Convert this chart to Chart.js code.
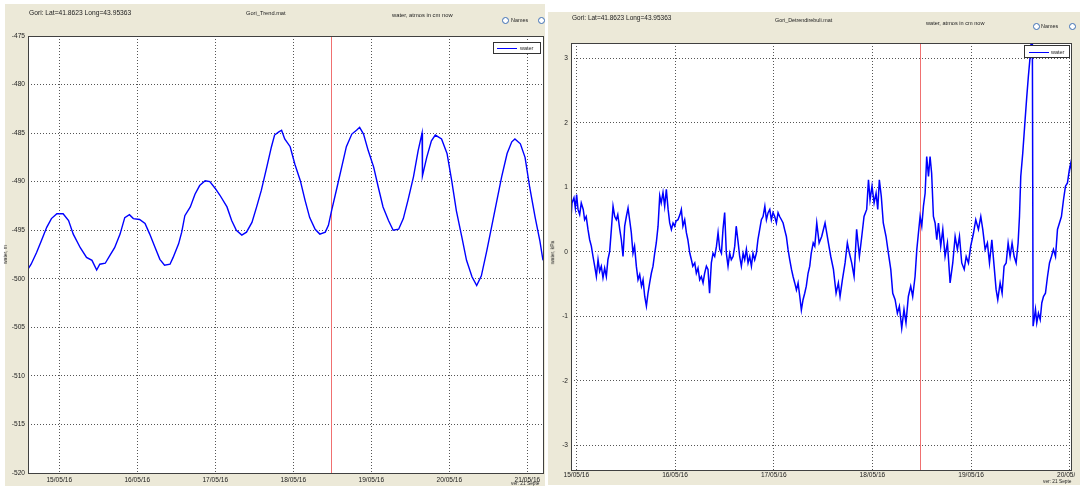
<!DOCTYPE html>
<html>
<head>
<meta charset="utf-8">
<script src="https://cdn.jsdelivr.net/npm/chart.js@4.4.1/dist/chart.umd.min.js"></script>
<style>
body { margin: 0; width: 1080px; height: 489px; background: #fff; position: relative; overflow: hidden; font-family: "Liberation Sans", Arial, sans-serif; }
.panel { position: absolute; background: #ECE9D8; }
canvas { position: absolute; top: 0; }
.txt { position: absolute; white-space: nowrap; color: #222; line-height: 1; }
.radio { position: absolute; width: 5px; height: 5px; border: 1px solid #3b6db3; border-radius: 50%; background: #fff; }
.legend { position: absolute; background: #fff; border: 1px solid #333; box-sizing: border-box; }
.legend .ln { position: absolute; height: 1px; background: #0000ff; }
.legend .lt { position: absolute; font-size: 5.5px; line-height: 1; color: #222; }
.ytitle { position: absolute; transform: rotate(-90deg); transform-origin: center; white-space: nowrap; font-size: 5px; color: #222; line-height: 1; }
</style>
</head>
<body>

<div class="panel" style="left:5px;top:4px;width:540px;height:482px"></div>
<div class="panel" style="left:548px;top:12px;width:532px;height:473px"></div>

<canvas id="trend" width="545" height="489" style="left:0"></canvas>
<canvas id="detr" width="527" height="489" style="left:548px"></canvas>

<!-- left panel texts -->
<div class="txt" style="left:29px;top:10px;font-size:6.7px">Gori: Lat=41.8623 Long=43.95363</div>
<div class="txt" style="left:246px;top:11px;font-size:5.7px">Gori_Trend.mat</div>
<div class="txt" style="left:392px;top:13px;font-size:5.8px">water, atmos in cm now</div>
<div class="radio" style="left:502px;top:17px"></div>
<div class="txt" style="left:511px;top:18px;font-size:5.4px">Names</div>
<div class="radio" style="left:538px;top:17px"></div>
<div class="ytitle" style="left:-4px;top:252px">water, m</div>
<div class="txt" style="left:511px;top:482px;font-size:4.8px">ver: 21 Septe</div>
<div class="legend" style="left:493px;top:42px;width:48px;height:12px">
  <div class="ln" style="left:3px;top:5px;width:20px"></div>
  <div class="lt" style="left:26px;top:3px">water</div>
</div>

<!-- right panel texts -->
<div class="txt" style="left:572px;top:15px;font-size:6.5px">Gori: Lat=41.8623 Long=43.95363</div>
<div class="txt" style="left:775px;top:18px;font-size:5.4px">Gori_Detrendirebuli.mat</div>
<div class="txt" style="left:926px;top:21px;font-size:5.6px">water, atmos in cm now</div>
<div class="radio" style="left:1033px;top:23px"></div>
<div class="txt" style="left:1041px;top:24px;font-size:5.4px">Names</div>
<div class="radio" style="left:1069px;top:23px"></div>
<div class="ytitle" style="left:541px;top:250px">water, kPa</div>
<div class="txt" style="left:1043px;top:480px;font-size:4.8px">ver: 21 Septe</div>
<div class="legend" style="left:1024px;top:45px;width:46px;height:13px">
  <div class="ln" style="left:4px;top:6px;width:20px"></div>
  <div class="lt" style="left:26px;top:4px">water</div>
</div>

<script>
// left panel: trend, days counted from 15/05/16 00:00
const trendDays = [-0.40,-0.36,-0.29,-0.23,-0.16,-0.10,-0.03,0.05,0.12,0.18,
    0.27,0.35,0.42,0.48,0.52,0.59,0.65,0.71,0.78,0.84,
    0.90,0.95,1.03,1.10,1.16,1.23,1.29,1.35,1.42,1.46,
    1.53,1.57,1.61,1.68,1.74,1.80,1.87,1.93,2.00,2.06,
    2.15,2.21,2.27,2.34,2.40,2.47,2.53,2.59,2.66,2.72,
    2.76,2.81,2.85,2.89,2.96,3.02,3.09,3.15,3.21,3.28,
    3.34,3.41,3.45,3.49,3.56,3.62,3.68,3.75,3.81,3.85,
    3.90,3.96,4.03,4.09,4.15,4.22,4.28,4.35,4.41,4.47,
    4.54,4.60,4.65,4.655,4.71,4.77,4.82,4.90,4.97,5.03,
    5.09,5.16,5.22,5.29,5.35,5.41,5.48,5.54,5.61,5.67,
    5.74,5.80,5.84,5.91,5.97,6.03,6.10,6.16,6.20];
const trendValues = [-499.0,-498.5,-497.3,-496.1,-494.7,-493.8,-493.3,-493.3,-494.0,-495.4,
    -496.8,-497.8,-498.1,-499.1,-498.5,-498.4,-497.6,-496.8,-495.4,-493.7,
    -493.4,-493.8,-493.9,-494.3,-495.4,-496.8,-498.0,-498.6,-498.5,-497.8,
    -496.4,-495.2,-493.5,-492.6,-491.3,-490.4,-489.9,-490.0,-490.7,-491.4,
    -492.6,-494.0,-495.0,-495.5,-495.2,-494.2,-492.6,-490.9,-488.5,-486.4,
    -485.2,-484.9,-484.7,-485.6,-486.4,-488.2,-489.9,-491.9,-493.7,-494.9,
    -495.4,-495.2,-494.5,-493.0,-490.6,-488.5,-486.4,-485.1,-484.7,-484.4,
    -485.1,-486.8,-488.5,-490.6,-492.6,-494.0,-495.0,-494.9,-493.8,-491.9,
    -489.5,-486.8,-485.0,-489.4,-487.5,-485.8,-485.2,-485.6,-487.1,-489.9,
    -493.0,-495.7,-498.1,-499.8,-500.7,-499.7,-497.1,-494.7,-491.9,-489.5,
    -487.1,-485.9,-485.6,-486.1,-487.5,-490.6,-493.7,-496.1,-498.1];
const trendTicks = [-520, -515, -510, -505, -500, -495, -490, -485, -480, -475];
const trendDayTicks = [0, 1, 2, 3, 4, 5, 6];
const trendDayLabels = ['15/05/16', '16/05/16', '17/05/16', '18/05/16', '19/05/16', '20/05/16', '21/05/16'];

// right panel: detrended
const detrDays = [-0.057,-0.044,-0.024,-0.010,0.003,0.017,0.034,0.050,0.070,0.084,
    0.100,0.118,0.135,0.152,0.169,0.186,0.203,0.220,0.236,0.253,
    0.270,0.287,0.304,0.320,0.338,0.355,0.372,0.389,0.405,0.420,
    0.440,0.456,0.473,0.490,0.507,0.524,0.540,0.557,0.574,0.590,
    0.608,0.625,0.642,0.660,0.676,0.693,0.710,0.726,0.743,0.760,
    0.777,0.794,0.810,0.828,0.845,0.860,0.878,0.895,0.912,0.930,
    0.946,0.963,0.980,0.997,1.010,1.030,1.050,1.064,1.080,1.098,
    1.115,1.130,1.150,1.166,1.180,1.200,1.216,1.233,1.250,1.267,
    1.284,1.300,1.318,1.334,1.350,1.368,1.385,1.402,1.420,1.436,
    1.453,1.470,1.486,1.503,1.520,1.537,1.554,1.570,1.588,1.605,
    1.620,1.640,1.655,1.672,1.690,1.706,1.723,1.740,1.757,1.774,
    1.790,1.807,1.824,1.840,1.858,1.875,1.892,1.910,1.926,1.943,
    1.960,1.976,1.993,2.010,2.027,2.044,2.060,2.078,2.095,2.110,
    2.128,2.145,2.162,2.180,2.196,2.213,2.230,2.247,2.264,2.280,
    2.297,2.314,2.330,2.348,2.365,2.380,2.400,2.416,2.436,2.460,
    2.486,2.520,2.554,2.578,2.605,2.632,2.655,2.672,2.696,2.723,
    2.746,2.767,2.790,2.814,2.840,2.868,2.892,2.915,2.942,2.960,
    2.976,2.996,3.017,3.037,3.054,3.070,3.090,3.110,3.138,3.162,
    3.186,3.206,3.230,3.253,3.273,3.297,3.320,3.340,3.364,3.388,
    3.408,3.432,3.450,3.466,3.483,3.500,3.517,3.534,3.550,3.568,
    3.584,3.600,3.618,3.635,3.652,3.669,3.692,3.713,3.736,3.760,
    3.787,3.814,3.838,3.861,3.882,3.905,3.930,3.950,3.973,3.996,
    4.024,4.047,4.074,4.098,4.118,4.142,4.165,4.186,4.210,4.233,
    4.253,4.270,4.294,4.314,4.334,4.355,4.375,4.395,4.415,4.436,
    4.456,4.476,4.490,4.503,4.523,4.547,4.564,4.580,4.598,4.610,
    4.620,4.628,4.638,4.652,4.665,4.682,4.700,4.716,4.733,4.753,
    4.774,4.794,4.814,4.834,4.855,4.875,4.895,4.915,4.936,4.956,
    4.976,4.996,5.010,5.023];
const detrValues = [0.45,0.76,0.84,0.68,0.89,0.66,0.58,0.76,0.66,0.50,
    0.55,0.35,0.19,0.09,-0.07,-0.22,-0.38,-0.12,-0.30,-0.22,
    -0.40,-0.25,-0.38,-0.12,0.01,0.35,0.71,0.55,0.50,0.58,
    0.35,0.19,-0.07,0.40,0.55,0.68,0.50,0.30,-0.02,0.09,
    -0.22,-0.43,-0.35,-0.53,-0.43,-0.69,-0.84,-0.64,-0.48,-0.33,
    -0.22,-0.02,0.14,0.40,0.87,0.76,0.92,0.71,0.97,0.66,
    0.45,0.35,0.45,0.40,0.48,0.50,0.58,0.66,0.40,0.50,
    0.30,0.19,-0.02,-0.12,-0.22,-0.17,-0.33,-0.25,-0.43,-0.38,
    -0.48,-0.33,-0.22,-0.27,-0.64,-0.17,-0.02,-0.07,0.09,0.30,
    0.04,-0.02,0.35,0.61,-0.02,-0.22,-0.02,-0.12,-0.07,0.09,
    0.40,0.14,-0.07,-0.22,-0.02,-0.12,0.04,-0.17,-0.07,-0.22,
    -0.02,-0.12,-0.02,0.19,0.35,0.50,0.55,0.71,0.50,0.61,
    0.66,0.50,0.61,0.55,0.45,0.61,0.55,0.50,0.45,0.35,
    0.24,0.04,-0.12,-0.27,-0.38,-0.48,-0.59,-0.48,-0.69,-0.90,
    -0.74,-0.64,-0.53,-0.33,-0.22,-0.02,0.14,0.09,0.45,0.14,
    0.24,0.45,0.14,-0.07,-0.27,-0.64,-0.48,-0.69,-0.43,-0.17,
    0.14,-0.02,-0.17,-0.38,0.35,-0.07,0.24,0.55,0.66,1.12,
    0.81,1.02,0.76,0.91,0.66,1.12,0.86,0.45,0.24,-0.02,
    -0.27,-0.64,-0.74,-0.95,-0.84,-1.18,-0.89,-1.10,-0.69,-0.53,
    -0.69,-0.38,0.04,0.29,0.55,0.40,0.71,0.91,1.48,1.17,
    1.48,1.22,0.55,0.45,0.19,0.45,0.09,0.35,-0.07,0.14,
    -0.48,-0.17,0.24,0.04,0.24,-0.17,-0.27,-0.07,-0.17,0.09,
    0.29,0.50,0.35,0.55,0.35,0.04,0.14,-0.17,0.19,-0.22,
    -0.58,-0.74,-0.48,-0.64,-0.22,-0.17,0.14,-0.07,0.14,-0.07,
    -0.17,0.14,0.55,1.17,1.53,2.05,2.41,2.72,3.03,3.29,
    3.60,-1.15,-1.05,-0.89,-1.10,-0.95,-1.05,-0.79,-0.69,-0.64,
    -0.38,-0.17,-0.07,0.04,-0.07,0.35,0.45,0.55,0.81,1.02,
    1.07,1.28,1.38,1.17];
const detrTicks = [-3, -2, -1, 0, 1, 2, 3];
const detrDayTicks = [0, 1, 2, 3, 4, 5];
const detrDayLabels = ['15/05/16', '16/05/16', '17/05/16', '18/05/16', '19/05/16', '20/05/16'];

const cursorDay = 3.48;

// white plot area, red cursor, frame
const framePlugin = {
    id: 'frame',
    beforeDraw(chart) {
        const a = chart.chartArea;
        const ctx = chart.ctx;
        ctx.save();
        ctx.fillStyle = '#fff';
        ctx.fillRect(a.left, a.top, a.right - a.left, a.bottom - a.top);
        ctx.restore();
    },
    beforeDatasetsDraw(chart) {
        const a = chart.chartArea;
        const ctx = chart.ctx;
        const x = Math.round(chart.scales.x.getPixelForValue(cursorDay)) + 0.5;
        ctx.save();
        ctx.strokeStyle = '#f07070';
        ctx.lineWidth = 1;
        ctx.beginPath();
        ctx.moveTo(x, a.top);
        ctx.lineTo(x, a.bottom);
        ctx.stroke();
        ctx.restore();
    },
    afterDatasetsDraw(chart) {
        const a = chart.chartArea;
        const ctx = chart.ctx;
        ctx.save();
        ctx.strokeStyle = '#404040';
        ctx.lineWidth = 1;
        ctx.strokeRect(Math.round(a.left) + 0.5, Math.round(a.top) + 0.5,
            Math.round(a.right - a.left), Math.round(a.bottom - a.top));
        ctx.restore();
    }
};

const makeChart = function (id, o) {
    const tickFont = { family: '"Liberation Sans", Arial, sans-serif', size: 6.6 };
    new Chart(document.getElementById(id), {
        type: 'line',
        data: {
            datasets: [{
                label: 'water',
                data: o.days.map((d, i) => ({ x: d, y: o.values[i] })),
                borderColor: '#0000ff',
                borderWidth: o.lineWidth,
                pointRadius: 0,
                tension: 0,
                fill: false
            }]
        },
        options: {
            responsive: false,
            animation: false,
            devicePixelRatio: 1,
            layout: { padding: { left: 0, right: o.padRight, top: o.padTop, bottom: 0 } },
            plugins: { legend: { display: false }, tooltip: { enabled: false } },
            scales: {
                x: {
                    type: 'linear',
                    min: o.xMin,
                    max: o.xMax,
                    afterBuildTicks: (axis) => { axis.ticks = o.xTicks.map((v) => ({ value: v })); },
                    afterFit: (axis) => { axis.height = o.xHeight; axis.paddingLeft = 0; axis.paddingRight = 0; },
                    grid: { color: '#555', drawTicks: false, borderDash: [1, 2] },
                    border: { display: false, dash: [1, 2] },
                    ticks: {
                        autoSkip: false, maxRotation: 0, padding: o.xPad, color: '#222', font: tickFont,
                        callback: (v) => o.xLabels[o.xTicks.indexOf(v)]
                    }
                },
                y: {
                    min: o.yMin,
                    max: o.yMax,
                    afterBuildTicks: (axis) => { axis.ticks = o.yTicks.map((v) => ({ value: v })); },
                    afterFit: (axis) => { axis.width = o.yWidth; axis.paddingTop = 0; axis.paddingBottom = 0; },
                    grid: { color: '#555', drawTicks: false, borderDash: [1, 2] },
                    border: { display: false, dash: [1, 2] },
                    ticks: { padding: 3, color: '#222', font: tickFont, callback: (v) => String(v) }
                }
            }
        },
        plugins: [framePlugin]
    });
};

makeChart('trend', {
    days: trendDays, values: trendValues, lineWidth: 1.4,
    xMin: -0.40, xMax: 6.20, xTicks: trendDayTicks, xLabels: trendDayLabels,
    yMin: -520, yMax: -475, yTicks: trendTicks,
    yWidth: 28, xHeight: 16, padRight: 2, padTop: 36, xPad: 3
});

makeChart('detr', {
    days: detrDays, values: detrValues, lineWidth: 1.5,
    xMin: -0.054, xMax: 5.012, xTicks: detrDayTicks, xLabels: detrDayLabels,
    yMin: -3.38, yMax: 3.24, yTicks: detrTicks,
    yWidth: 23, xHeight: 19, padRight: 4, padTop: 43, xPad: 1
});
</script>
</body>
</html>
